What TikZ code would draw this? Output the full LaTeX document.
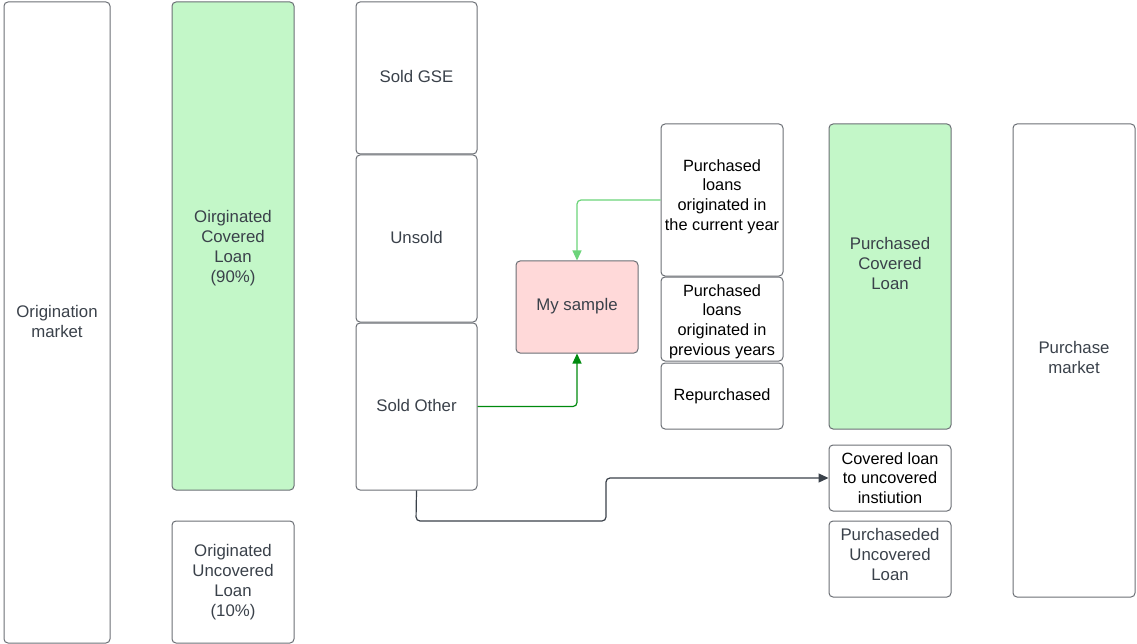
\documentclass[tikz,border=0pt]{standalone}
\usepackage{fontspec}
\setmainfont{Liberation Sans}
\usetikzlibrary{arrows.meta}
\definecolor{bordergray}{HTML}{6B6F75}
\definecolor{txtgray}{HTML}{3A414A}
\definecolor{lgreen}{HTML}{C3F7C8}
\definecolor{lpink}{HTML}{FFD9D9}
\definecolor{arrowlight}{HTML}{6CD47A}
\definecolor{arrowdark}{HTML}{008A0E}
\definecolor{arrowgray}{HTML}{3A414A}
\tikzset{
  box/.style={draw=bordergray, line width=1pt, rounded corners=4pt, align=center,
    font=\fontsize{16.8}{20}\selectfont, text=txtgray, inner sep=0pt},
  blk/.style={text=black, font=\fontsize{16.3}{19.8}\selectfont},
  conn/.style={line width=1.2pt, rounded corners=4pt},
  tip/.style={-{Triangle[length=10pt,width=9pt]}}
}
\begin{document}
\begin{tikzpicture}[x=1pt,y=-1pt]
\useasboundingbox (0,0) rectangle (1137,644);
% column 1
\node[box, minimum width=106pt, minimum height=641pt] (orig) at (57,322.5) {};
\node[box, draw=none, fill=none] (origtxt) at (57,321.5) {Origination\\market};
% column 2
\node[box, fill=lgreen, minimum width=122pt, minimum height=488pt] (ocl) at (233,246) {};
\node[box, draw=none, fill=none] (ocltxt) at (233,248) {Oirginated\\Covered\\Loan\\(90\%)};
\node[box, minimum width=122pt, minimum height=122pt] (oul) at (233,582) {Originated\\Uncovered\\Loan\\(10\%)};
% column 3
\node[box, minimum width=121pt, minimum height=152pt] (gse) at (416.5,78) {};
\node[box, draw=none, fill=none] (gsetxt) at (416.5,76.5) {Sold GSE};
\node[box, minimum width=121pt, minimum height=167pt] (unsold) at (416.5,238.5) {};
\node[box, draw=none, fill=none] (unsoldtxt) at (416.5,237) {Unsold};
\node[box, minimum width=121pt, minimum height=167pt] (other) at (416.5,406.5) {};
\node[box, draw=none, fill=none] (othertxt) at (416.5,405) {Sold Other};
% my sample
\node[box, fill=lpink, minimum width=122pt, minimum height=92pt] (sample) at (577,307) {};
\node[box, draw=none, fill=none] (sampletxt) at (577,306) {My sample};
% column 4
\node[box, blk, minimum width=122pt, minimum height=152pt] (cur) at (722,200) {};
\node[box, blk, draw=none, fill=none] (curtxt) at (722,196.5) {Purchased\\loans\\originated in\\the current year};
\node[box, blk, minimum width=122pt, minimum height=84pt] (prev) at (722,319) {};
\node[box, blk, draw=none, fill=none] (prevtxt) at (722,321.5) {Purchased\\loans\\originated in\\previous years};
\node[box, blk, minimum width=122pt, minimum height=66pt] (rep) at (722,396) {Repurchased};
% column 5
\node[box, fill=lgreen, minimum width=122pt, minimum height=305pt] (pcl) at (890,276.5) {};
\node[box, draw=none, fill=none] (pcltxt) at (890,263.5) {Purchased\\Covered\\Loan};
\node[box, blk, minimum width=122pt, minimum height=66pt] (c2u) at (890,478) {Covered loan\\to uncovered\\instiution};
\node[box, minimum width=122pt, minimum height=76pt] (pul) at (890,559) {};
\node[box, draw=none, fill=none] (pultxt) at (890,554) {Purchaseded\\Uncovered\\Loan};
% column 6
\node[box, minimum width=122pt, minimum height=473pt] (pm) at (1074,360.5) {};
\node[box, draw=none, fill=none] (pmtxt) at (1074,357.5) {Purchase\\market};
% connectors
\draw[conn, tip, draw=arrowlight] (cur.west) -- (577,200) -- (sample.north);
\draw[conn, tip, draw=arrowdark] (other.east) -- (577,406.5) -- (sample.south);
\draw[conn, tip, draw=arrowgray] (other.south) -- (416,521) -- (606,521) -- (606,478) -- (c2u.west);
\end{tikzpicture}
\end{document}
